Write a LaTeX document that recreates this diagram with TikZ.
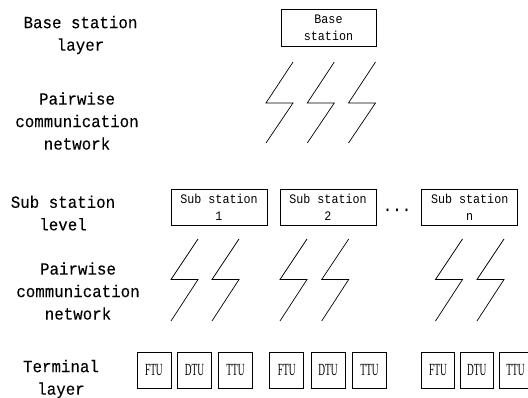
\documentclass[tikz,border=0pt]{standalone}
\usepackage{fontspec}
\setmainfont{Liberation Serif}
\newfontfamily\lblfont[FakeStretch=0.93,FakeBold=0.12]{Liberation Mono}
\newfontfamily\boxfont[FakeStretch=0.9]{Liberation Mono}
\newfontfamily\unitfont[FakeStretch=0.55]{Liberation Serif}
\begin{document}
\begin{tikzpicture}[x=1pt,y=-1pt,
  layerlabel/.style={align=center,inner sep=0pt,
    font=\lblfont\fontsize{17}{22.5}\selectfont},
  stationbox/.style={draw,line width=0.8pt,inner sep=0pt,align=center,
    minimum width=96pt,minimum height=36.5pt,
    font=\boxfont\fontsize{13}{17}\selectfont},
  unitbox/.style={draw,line width=0.8pt,inner sep=0pt,
    minimum width=34pt,minimum height=36.5pt,
    font=\unitfont\fontsize{17}{20}\selectfont},
  bolt/.style={line width=0.7pt,line join=miter}]
\clip (0,0) rectangle (528,398);

% layer captions on the left
\node[layerlabel] (lbase) at (80.5,35) {Base station\\layer};
\node[layerlabel] (lnet1) at (77,121) {Pairwise\\communication\\network};
\node[layerlabel] (lsub)  at (63,213) {Sub station\\level};
\node[layerlabel] (lnet2) at (78,291) {Pairwise\\communication\\network};
\node[layerlabel] (lterm) at (61,379) {Terminal\\layer};

% base station
\node[stationbox,minimum width=95pt,minimum height=37pt] (bs) at (328.5,27.5) {Base\\station};

% sub stations
\node[stationbox] (ss1) at (219,207.5) {Sub station\\1};
\node[stationbox] (ss2) at (328,207.5) {Sub station\\2};
\node[stationbox] (ssn) at (469.7,207.5) {Sub station\\n};
\node[font=\lblfont\fontsize{17}{20}\selectfont,anchor=base,inner sep=0pt] (dots) at (397,211) {...};

% terminal units
\foreach \name/\xc/\lab in {f1/153.9/FTU, d1/194.5/DTU, t1/235.5/TTU,
                            f2/286.7/FTU, d2/327.9/DTU, t2/369.5/TTU}
  \node[unitbox] (\name) at (\xc,370.2) {\lab};
\foreach \name/\xc/\lab in {f3/438/FTU, d3/476.7/DTU, t3/515.5/TTU}
  \node[unitbox,minimum width=33pt] (\name) at (\xc,370.2) {\lab};

% wireless links between the base station and the sub stations
\foreach \xl in {266,307.3,348.5}
  \draw[bolt] (\xl+27,62) -- (\xl,103) -- (\xl+27,103) -- (\xl,143);

% wireless links between the sub stations and the terminals
\foreach \xl in {171,212,280,321.7,435.5,477}
  \draw[bolt] (\xl+27,239) -- (\xl,279.5) -- (\xl+27,279.5) -- (\xl,321);
\end{tikzpicture}
\end{document}
